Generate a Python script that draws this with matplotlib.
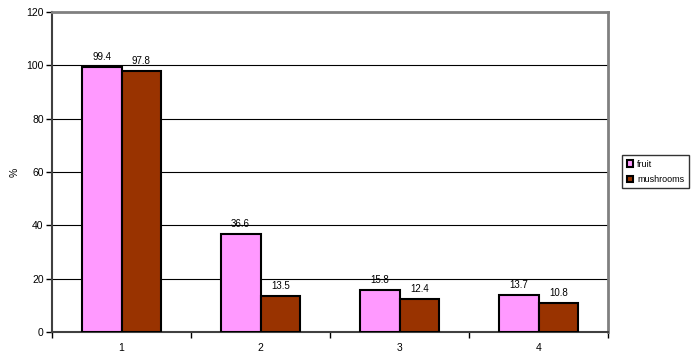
import matplotlib
matplotlib.use("Agg")
import matplotlib.pyplot as plt
import numpy as np

plt.rcParams['font.family'] = ['Liberation Sans', 'DejaVu Sans']

categories = ["1", "2", "3", "4"]
fruit = [99.4, 36.6, 15.8, 13.7]
mushrooms = [97.8, 13.5, 12.4, 10.8]
yticks = [0, 20, 40, 60, 80, 100, 120]

W, H = 698, 356
fig = plt.figure(figsize=(W/100, H/100), dpi=100)
ax = fig.add_axes([52/W, 1-332/H, (608-52)/W, (332-12)/H])

x = np.arange(len(categories))
bw = 0.2857
ax.bar(x - bw/2, fruit, bw, color='#FF99FF', edgecolor='black', linewidth=1.5, label='fruit', zorder=3)
ax.bar(x + bw/2, mushrooms, bw, color='#993300', edgecolor='black', linewidth=1.5, label='mushrooms', zorder=3)

for i in range(len(categories)):
    ax.text(x[i] - bw/2, fruit[i] + 2, f"{fruit[i]:.1f}", ha='center', va='bottom', fontsize=7)
    ax.text(x[i] + bw/2, mushrooms[i] + 2, f"{mushrooms[i]:.1f}", ha='center', va='bottom', fontsize=7)

ax.set_xlim(-0.5, len(categories) - 0.5)
ax.set_ylim(0, 120)
ax.set_yticks(yticks)
ax.set_yticklabels([str(v) for v in yticks], fontsize=7.5)
ax.set_xticks(x)
ax.set_xticklabels(categories, fontsize=7.5)
ax.set_xticks(np.arange(-0.5, len(categories)), minor=True)
ax.tick_params(axis='x', which='major', length=0, pad=8)
ax.tick_params(axis='x', which='minor', length=4, width=1, direction='out')
ax.tick_params(axis='y', length=4, width=1, direction='out', pad=2)

for v in yticks[1:-1]:
    ax.axhline(v, color='black', linewidth=0.8, zorder=1)

ax.spines['top'].set_color('#808080')
ax.spines['right'].set_color('#808080')
ax.spines['top'].set_linewidth(2)
ax.spines['right'].set_linewidth(2)
ax.spines['left'].set_color('#404040')
ax.spines['bottom'].set_color('#404040')
ax.spines['left'].set_linewidth(1.5)
ax.spines['bottom'].set_linewidth(1.5)

ax.set_ylabel('%', fontsize=7.5)
ax.yaxis.set_label_coords(-32/(608-52), 0.5)

leg = fig.legend(loc='upper left', bbox_to_anchor=(622/W, 1-155/H), fontsize=6.5,
                 frameon=True, fancybox=False, edgecolor='black', handlelength=0.7,
                 handleheight=0.7, handletextpad=0.5, borderpad=0.5, labelspacing=0.7,
                 borderaxespad=0)
leg.get_frame().set_linewidth(1)

fig.savefig('out.png', dpi=100)
